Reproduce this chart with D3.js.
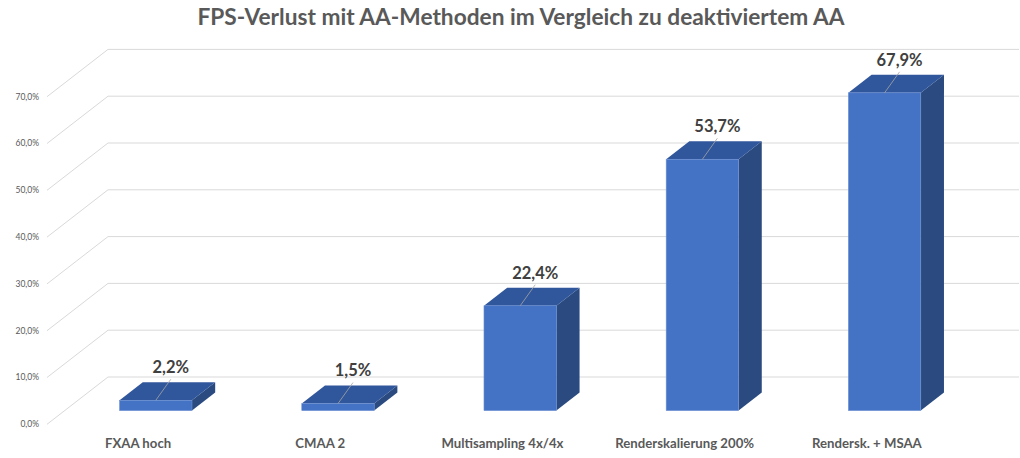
<!DOCTYPE html>
<html>
<head>
<meta charset="utf-8">
<script src="https://cdn.jsdelivr.net/npm/d3@7"></script>
<style>
  body { margin: 0; background: #fff; }
  text { font-family: Lato, "Liberation Sans", sans-serif; }
</style>
</head>
<body>
<div class="chart"></div>
<script>
// chart data
var categories = ["FXAA hoch", "CMAA 2", "Multisampling 4x/4x", "Renderskalierung 200%", "Rendersk. + MSAA"];
var values = [2.2, 1.5, 22.4, 53.7, 67.9];
var yTicks = [0, 10, 20, 30, 40, 50, 60, 70];
var title = "FPS-Verlust mit AA-Methoden im Vergleich zu deaktiviertem AA";

var svgWidth = 1020;
var svgHeight = 458;

// oblique 3d offsets (full floor depth)
var depthX = 61;
var depthY = -47.3;
var barFront = 0.29;
var barBack = 0.67;

var svg = d3.select(".chart")
  .append("svg")
  .attr("width", svgWidth)
  .attr("height", svgHeight);

var xScale = d3.scaleBand()
  .domain(categories)
  .range([47, 958]);

var yScale = d3.scaleLinear()
  .domain([0, 70])
  .range([424.3, 96.7]);

var fmt = function(v) { return v.toFixed(1).replace(".", ",") + "%"; };

// title
svg.append("text")
  .attr("x", 521)
  .attr("y", 25)
  .attr("text-anchor", "middle")
  .attr("font-size", 22.7)
  .attr("font-weight", "bold")
  .attr("fill", "#595959")
  .text(title);

// gridlines: left wall diagonal + back wall horizontal
var grid = svg.append("g");
yTicks.forEach(function(t) {
  var y0 = yScale(t);
  grid.append("path")
    .attr("d", `M47,${y0} L${47 + depthX},${y0 + depthY} L1019,${y0 + depthY}`)
    .attr("fill", "none")
    .attr("stroke", "#d9d9d9")
    .attr("stroke-width", 1);
});

// y labels
svg.append("g").selectAll("text")
  .data(yTicks)
  .enter()
  .append("text")
  .attr("x", 39)
  .attr("y", d => yScale(d))
  .attr("dy", "0.35em")
  .attr("text-anchor", "end")
  .attr("font-size", 8.5)
  .attr("fill", "#595959")
  .text(d => d.toFixed(1).replace(".", ",") + "%");

// bars
var barW = 72.4;
var dd = barBack - barFront;
var bars = svg.append("g").selectAll("g")
  .data(values)
  .enter()
  .append("g");

bars.each(function(v, i) {
  var g = d3.select(this);
  var cx = xScale(categories[i]) + xScale.bandwidth() / 2 + barFront * depthX;
  var x0 = cx - barW / 2;
  var x1 = cx + barW / 2;
  var top = yScale(v) + barFront * depthY;
  var bottom = yScale(0) + barFront * depthY;
  var ox = dd * depthX, oy = dd * depthY;

  // side
  g.append("path")
    .attr("d", `M${x1},${top} L${x1 + ox},${top + oy} L${x1 + ox},${bottom + oy} L${x1},${bottom} Z`)
    .attr("fill", "#2a4a80");
  // top
  g.append("path")
    .attr("d", `M${x0},${top} L${x1},${top} L${x1 + ox},${top + oy} L${x0 + ox},${top + oy} Z`)
    .attr("fill", "#30569b");
  // front
  g.append("rect")
    .attr("x", x0)
    .attr("y", top)
    .attr("width", barW)
    .attr("height", bottom - top)
    .attr("fill", "#4472c4")
    .attr("stroke", "#6a8fd3")
    .attr("stroke-width", 0.6);

  // leader + value label
  var lx = cx + 15;
  var ly = top - 33;
  g.append("line")
    .attr("x1", cx)
    .attr("y1", top)
    .attr("x2", lx)
    .attr("y2", top - 21)
    .attr("stroke", "#a6a6a6")
    .attr("stroke-width", 0.8);
  g.append("text")
    .attr("x", lx)
    .attr("y", ly)
    .attr("dy", "0.35em")
    .attr("text-anchor", "middle")
    .attr("font-size", 16.5)
    .attr("font-weight", "bold")
    .attr("fill", "#404040")
    .text(fmt(v));
});

// category labels
svg.append("g").selectAll("text")
  .data(categories)
  .enter()
  .append("text")
  .attr("x", d => xScale(d) + xScale.bandwidth() / 2)
  .attr("y", 443)
  .attr("dy", "0.35em")
  .attr("text-anchor", "middle")
  .attr("font-size", 13.2)
  .attr("font-weight", "bold")
  .attr("fill", "#595959")
  .text(d => d);
</script>
</body>
</html>
